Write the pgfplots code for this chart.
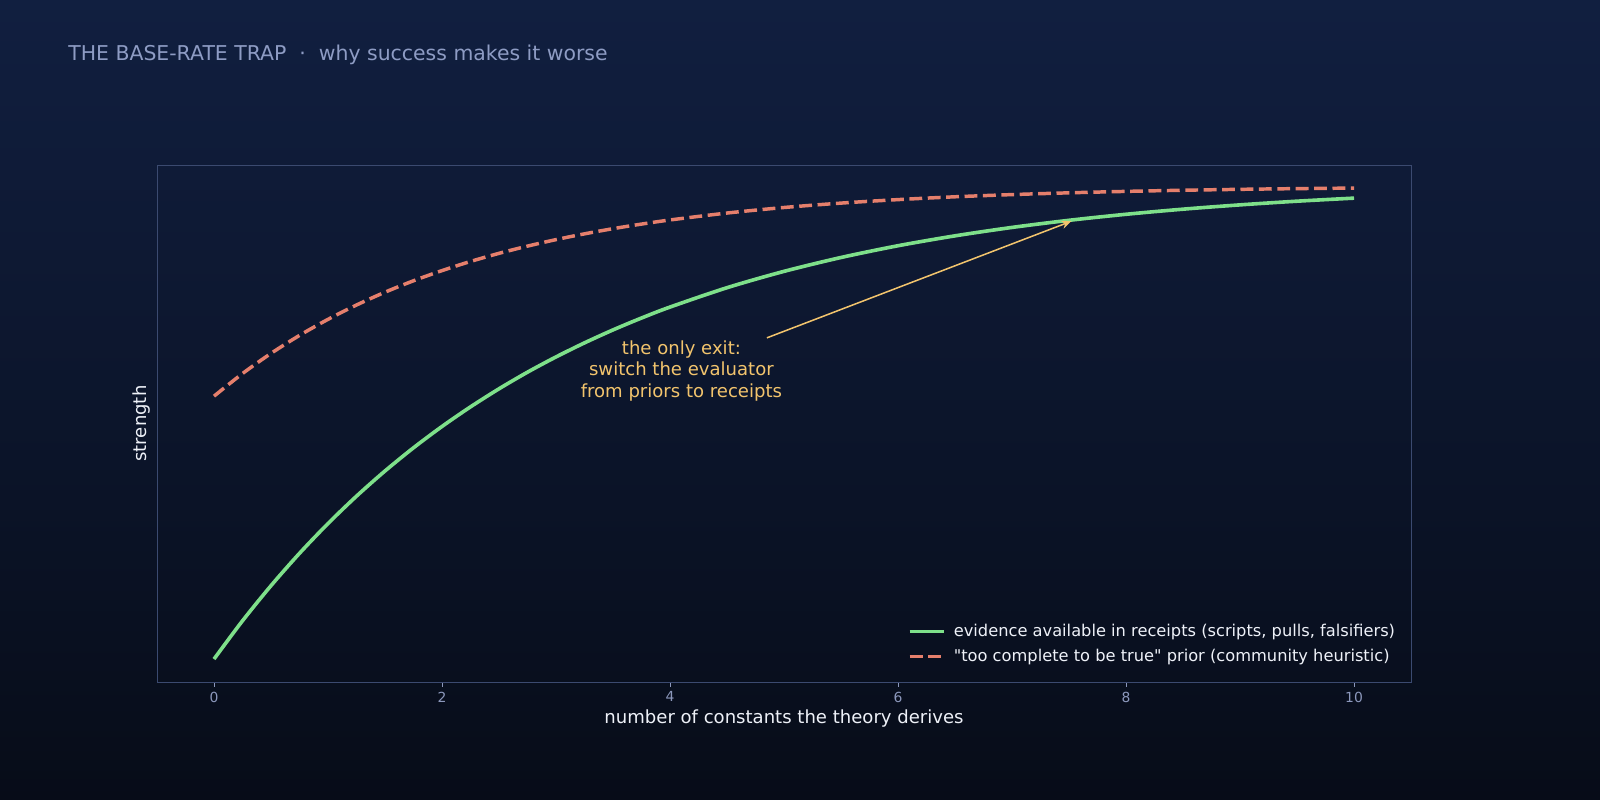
\documentclass[border=0pt]{standalone}
\usepackage{fontspec}
\setmainfont{DejaVu Sans}[Ligatures=TeXOff]
\usepackage{pgfplots}
\pgfplotsset{compat=1.18}
\usetikzlibrary{arrows.meta}

\definecolor{bgtop}{HTML}{111F40}
\definecolor{bgbot}{HTML}{070C18}
\definecolor{spine}{HTML}{3B4A70}
\definecolor{tickc}{HTML}{8C98BC}
\definecolor{titlec}{HTML}{8E9CC4}
\definecolor{labelc}{HTML}{EEF1F8}
\definecolor{evid}{HTML}{7EE08A}
\definecolor{prior}{HTML}{E57F6C}
\definecolor{gold}{HTML}{F2C46D}

\begin{document}
\begin{tikzpicture}
  % whole figure background, 1600x800 px at 0.72pt/px
  \shade[top color=bgtop, bottom color=bgbot] (0,0) rectangle (1152pt,576pt);
  \node[anchor=west, text=titlec, font=\fontsize{14.7}{18}\selectfont, inner sep=0pt]
    at (49pt,536.5pt) {THE BASE-RATE TRAP \ ·\ \ why success makes it worse};

  \begin{axis}[
    at={(113.04pt,84.96pt)}, anchor=south west,
    scale only axis,
    width=902.9pt, height=372.2pt,
    xmin=-0.5, xmax=10.5,
    ymin=-0.048, ymax=1.0335,
    axis line style={spine, line width=0.6pt},
    xtick={0,2,4,6,8,10},
    ytick=\empty,
    tick align=outside,
    xtick pos=bottom,
    major tick length=3.5pt,
    tick style={tickc, line width=0.6pt},
    xticklabel style={text=tickc, font=\fontsize{10}{12}\selectfont},
    /pgf/number format/assume math mode=true,
    xlabel={number of constants the theory derives},
    ylabel={strength},
    xlabel style={at={(axis description cs:0.5,-0.07)}, anchor=center,
      text=labelc, font=\fontsize{13}{15}\selectfont},
    ylabel style={at={(axis description cs:-0.0122,0.5)}, anchor=center,
      text=labelc, font=\fontsize{13}{15}\selectfont},
    legend style={at={(rel axis cs:0.993,0.024)}, anchor=south east,
      draw=none, fill=none, text=labelc, font=\fontsize{11.7}{14}\selectfont,
      row sep=3.6pt, legend cell align=left},
    legend image code/.code={
      \draw[#1] (0pt,0pt) -- (24.5pt,0pt);
      \path (28.5pt,0pt);
    },
  ]

  % receipts evidence
  \addplot[evid, line width=2.6pt, smooth] coordinates {
    (0,0) (0.25,0.0800) (0.5,0.1535) (0.75,0.2212) (1,0.2835) (1.25,0.3408)
    (1.5,0.3935) (1.75,0.4420) (2,0.4866) (2.25,0.5276) (2.5,0.5654)
    (2.75,0.6002) (3,0.6321) (3.25,0.6615) (3.5,0.6886) (3.75,0.7135)
    (4,0.7364) (4.5,0.7769) (5,0.8111)
    (5.5,0.8401) (6,0.8647) (6.5,0.8854) (7,0.9030) (7.5,0.9179)
    (8,0.9305) (8.5,0.9412) (9,0.9502) (9.5,0.9579) (10,0.9643)
  };
  \addlegendentry{evidence available in receipts (scripts, pulls, falsifiers)}

  % community prior
  \addplot[prior, line width=2.5pt, smooth, dash pattern=on 9.25pt off 4pt] coordinates {
    (0,0.55) (0.25,0.5973) (0.5,0.6395) (0.75,0.6771) (1,0.7107) (1.25,0.7407)
    (1.5,0.7675) (1.75,0.7914) (2,0.8127) (2.25,0.8318) (2.5,0.8488)
    (2.75,0.8639) (3,0.8775) (3.25,0.8896) (3.5,0.9004) (3.75,0.9100)
    (4,0.9186) (4.5,0.9331) (5,0.9447)
    (5.5,0.9539) (6,0.9612) (6.5,0.9671) (7,0.9717) (7.5,0.9754)
    (8,0.9784) (8.5,0.9808) (9,0.9827) (9.5,0.9842) (10,0.9853)
  };
  \addlegendentry{"too complete to be true" prior (community heuristic)}

  \draw[gold, line width=1.1pt, -{Stealth[length=7pt,width=6pt]}]
    (axis cs:4.85,0.672) -- (axis cs:7.52,0.916);
  \node[gold, align=center, font=\fontsize{13}{15.5}\selectfont]
    at (axis cs:4.1,0.603) {the only exit:\\switch the evaluator\\from priors to receipts};
  \end{axis}

  \pgfresetboundingbox
  \path[use as bounding box] (0,0) rectangle (1152pt,576pt);
\end{tikzpicture}
\end{document}
